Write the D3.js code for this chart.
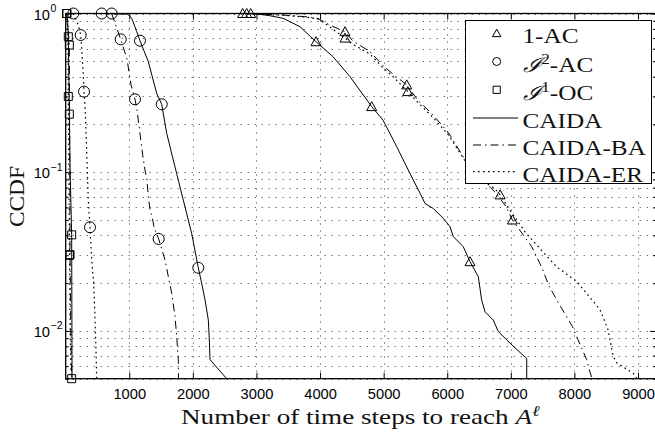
<!DOCTYPE html>
<html>
<head>
<meta charset="utf-8">
<script src="https://cdn.jsdelivr.net/npm/d3@7"></script>
<style>
  body { margin: 0; background: #fff; }
  svg { display: block; }
</style>
</head>
<body>
<svg id="chart" width="655" height="435"></svg>
<script>
// ---- tick values -------------------------------------------------------
const xTickValues = [1000, 2000, 3000, 4000, 5000, 6000, 7000, 8000, 9000];
const yTickExponents = [0, -1, -2];

// ---- legend entries ----------------------------------------------------
const legendMarkers = ["triangle", "circle", "square"];
const legendMarkerLabels = [["1-AC", ""], ["\u2110", "2", "-AC"], ["\u2110", "1", "-OC"]];
const legendLines = ["solid", "dashdot", "dotted"];
const legendLineLabels = ["CAIDA", "CAIDA-BA", "CAIDA-ER"];

// ---- CCDF curves: [time steps, CCDF] -----------------------------------
// I^1-OC attack
const caidaOC = [[16,1],[30,0.9],[41,0.714],[50,0.4],[57,0.232],[70,0.1],[94,0.0403],[98,0.01],[100,0.005]];
const caidaOCMarks = [[16,1],[41,0.714],[57,0.232],[94,0.0403]];
const baOC = [[16,1],[40,0.8],[57,0.633],[60,0.3],[65,0.1],[68,0.0302],[80,0.01],[94,0.005]];
const baOCMarks = [[16,1],[57,0.633],[68,0.0302],[94,0.005]];
const erOC = [[16,1],[35,0.7],[41,0.30],[50,0.1],[60,0.03],[70,0.01],[85,0.005]];
const erOCMarks = [[16,1],[41,0.30],[60,0.03]];

// I^2-AC attack
const caida2AC = [[566,1],[975,0.99],[1040,0.93],[1117,0.768],[1168,0.674],[1299,0.497],[1431,0.314],[1510,0.268],[1588,0.176],[1719,0.108],[1849,0.0668],[1981,0.0412],[2085,0.025],[2138,0.02],[2191,0.0157],[2243,0.0117],[2260,0.0085],[2269,0.0066],[2532,0.005]];
const caida2ACMarks = [[566,1],[1168,0.674],[1510,0.268],[2085,0.025]];
const ba2AC = [[723,1],[775,0.87],[865,0.688],[964,0.517],[1027,0.355],[1090,0.288],[1121,0.247],[1153,0.196],[1211,0.128],[1247,0.103],[1279,0.089],[1299,0.070],[1326,0.058],[1373,0.049],[1389,0.045],[1462,0.038],[1562,0.028],[1614,0.022],[1667,0.0173],[1719,0.0123],[1746,0.0092],[1771,0.0066],[1774,0.005]];
const ba2ACMarks = [[723,1],[865,0.688],[1090,0.288],[1462,0.038]];
const er2AC = [[120,1],[198,0.846],[236,0.732],[252,0.606],[277,0.40],[288,0.322],[304,0.259],[319,0.185],[355,0.067],[382,0.045],[409,0.028],[440,0.02],[461,0.012],[475,0.008],[487,0.005]];
const er2ACMarks = [[120,1],[236,0.732],[288,0.322],[382,0.045]];

// 1-AC attack
const caida1AC = [[2909,1],[3004,0.993],[3200,0.97],[3417,0.933],[3684,0.826],[3936,0.664],[4203,0.535],[4471,0.400],[4812,0.259],[4990,0.213],[5205,0.145],[5466,0.0892],[5572,0.0738],[5651,0.0635],[5781,0.0591],[5938,0.0512],[6043,0.0454],[6095,0.0393],[6253,0.0339],[6358,0.0273],[6488,0.0220],[6542,0.0156],[6594,0.0132],[6724,0.0117],[6803,0.0099],[7039,0.0080],[7250,0.0067],[7250,0.005]];
const caida1ACMarks = [[2909,1],[3936,0.664],[4812,0.259],[6358,0.0273]];
const ba1AC = [[2846,1],[3417,0.978],[3763,0.955],[3968,0.93],[4141,0.85],[4392,0.768],[4518,0.67],[4785,0.575],[4990,0.47],[5147,0.415],[5363,0.355],[5520,0.29],[5781,0.228],[6017,0.178],[6279,0.12],[6515,0.093],[6749,0.075],[6910,0.062],[7025,0.050],[7328,0.034],[7485,0.0252],[7605,0.019],[7784,0.0142],[7967,0.0107],[8056,0.0088],[8193,0.0066],[8245,0.0055],[8277,0.005]];
const ba1ACMarks = [[2846,1],[4392,0.768],[5363,0.355],[7025,0.050]];
const er1AC = [[2783,1],[3417,0.975],[3763,0.95],[3968,0.925],[4141,0.83],[4392,0.70],[4518,0.64],[4785,0.555],[4990,0.455],[5147,0.40],[5379,0.322],[5520,0.28],[5781,0.22],[6017,0.172],[6279,0.118],[6515,0.09],[6749,0.079],[6832,0.072],[7021,0.055],[7225,0.042],[7406,0.0348],[7721,0.0253],[8036,0.0205],[8193,0.0172],[8403,0.0136],[8528,0.0102],[8611,0.0069],[8665,0.0063],[8926,0.0054],[8984,0.005]];
const er1ACMarks = [[2783,1],[4392,0.70],[5379,0.322],[6832,0.072]];

const curves = [
  { data: caidaOC, marks: caidaOCMarks, line: "solid",   marker: "square" },
  { data: baOC,    marks: baOCMarks,    line: "dashdot", marker: "square" },
  { data: erOC,    marks: erOCMarks,    line: "dotted",  marker: "square" },
  { data: caida2AC, marks: caida2ACMarks, line: "solid",   marker: "circle" },
  { data: ba2AC,    marks: ba2ACMarks,    line: "dashdot", marker: "circle" },
  { data: er2AC,    marks: er2ACMarks,    line: "dotted",  marker: "circle" },
  { data: caida1AC, marks: caida1ACMarks, line: "solid",   marker: "triangle" },
  { data: ba1AC,    marks: ba1ACMarks,    line: "dashdot", marker: "triangle" },
  { data: er1AC,    marks: er1ACMarks,    line: "dotted",  marker: "triangle" }
];

// ---- layout ------------------------------------------------------------
const plot = { left: 65.7, right: 656, top: 13.5, bottom: 378.7 };
const xMax = 9283;
const svg = d3.select("#chart");
const x = d3.scaleLinear().domain([0, xMax]).range([plot.left, plot.right]);
const y = d3.scaleLog().domain([0.005, 1]).range([plot.bottom, plot.top]);

const dashes = { solid: null, dashdot: "8 4 1.5 4", dotted: "1.6 3.4" };
const sansFont = "'Liberation Sans', Arial, Helvetica, sans-serif";
const serifFont = "'Liberation Serif', 'DejaVu Serif', serif";

// minor/major log ticks inside the y domain
const yMajor = yTickExponents.map(e => Math.pow(10, e));
const yMinor = [];
[-3, -2, -1].forEach(e => { for (let k = 2; k <= 9; k++) { const v = k * Math.pow(10, e); if (v >= 0.005 && v < 1) yMinor.push(v); } });

// ---- grid --------------------------------------------------------------
const grid = svg.append("g").attr("stroke", "#333").attr("stroke-width", 1).attr("stroke-dasharray", "1 6");
grid.selectAll("line.v").data(xTickValues).join("line")
  .attr("x1", d => Math.round(x(d)) + 0.5).attr("x2", d => Math.round(x(d)) + 0.5)
  .attr("y1", plot.top).attr("y2", plot.bottom);
grid.selectAll("line.h").data(yMajor.concat(yMinor)).join("line")
  .attr("y1", d => Math.round(y(d)) + 0.5).attr("y2", d => Math.round(y(d)) + 0.5)
  .attr("x1", plot.left).attr("x2", plot.right);

// ---- curves ------------------------------------------------------------
svg.append("clipPath").attr("id", "plotClip").append("rect")
  .attr("x", plot.left).attr("y", plot.top - 1)
  .attr("width", plot.right - plot.left).attr("height", plot.bottom - plot.top + 1);

const lineGen = d3.line().x(d => x(d[0])).y(d => y(d[1]));
const lines = svg.append("g").attr("clip-path", "url(#plotClip)");
curves.forEach(c => {
  lines.append("path").attr("d", lineGen(c.data))
    .attr("fill", "none").attr("stroke", "#000")
    .attr("stroke-width", c.line === "dotted" ? 1.2 : 1)
    .attr("stroke-dasharray", dashes[c.line]);
});

function markerPath(kind, s) {
  if (kind === "triangle") return `M${-s},${s * 0.8}L0,${-s}L${s},${s * 0.8}Z`;
  if (kind === "square") return `M${-s},${-s}H${s}V${s}H${-s}Z`;
  return d3.arc()({ innerRadius: 0, outerRadius: s, startAngle: 0, endAngle: 2 * Math.PI });
}
const markerSize = { triangle: 5, circle: 5.5, square: 4 };
const marks = svg.append("g");
curves.forEach(c => {
  marks.selectAll(null).data(c.marks).join("path")
    .attr("transform", d => `translate(${x(d[0])},${y(d[1])})`)
    .attr("d", markerPath(c.marker, markerSize[c.marker]))
    .attr("fill", "none").attr("stroke", "#000").attr("stroke-width", 1);
});

// ---- axes --------------------------------------------------------------
function clean(g) { g.select(".domain").remove(); g.selectAll(".tick line").attr("stroke", "#000"); }
svg.append("g").attr("transform", `translate(0,${plot.bottom})`)
  .call(d3.axisBottom(x).tickValues(xTickValues).tickSizeInner(-6).tickSizeOuter(0).tickPadding(9.6).tickFormat(d3.format("d")))
  .call(clean)
  .call(g => g.selectAll("text").attr("font-family", sansFont).attr("font-size", 14.7).attr("fill", "#000"));
svg.append("g").attr("transform", `translate(0,${plot.top})`)
  .call(d3.axisTop(x).tickValues(xTickValues).tickSizeInner(-6).tickSizeOuter(0).tickFormat(""))
  .call(clean);
[[d3.axisLeft, plot.left], [d3.axisRight, plot.right]].forEach(([ax, pos]) => {
  svg.append("g").attr("transform", `translate(${pos},0)`)
    .call(ax(y).tickValues(yMajor).tickSizeInner(-6).tickSizeOuter(0).tickFormat(""))
    .call(clean);
  svg.append("g").attr("transform", `translate(${pos},0)`)
    .call(ax(y).tickValues(yMinor).tickSizeInner(-3).tickSizeOuter(0).tickFormat(""))
    .call(clean);
});
svg.append("rect").attr("x", plot.left).attr("y", plot.top)
  .attr("width", plot.right - plot.left).attr("height", plot.bottom - plot.top)
  .attr("fill", "none").attr("stroke", "#000").attr("stroke-width", 1.3);

// y tick labels as powers of ten
const yLab = svg.append("g").attr("font-family", sansFont).attr("fill", "#000");
yTickExponents.forEach(e => {
  const yy = y(Math.pow(10, e));
  yLab.append("text").attr("x", 50).attr("y", yy + 6).attr("text-anchor", "end")
    .attr("font-size", 14.7).text("10");
  yLab.append("text").attr("x", 50.5).attr("y", yy - 1.5)
    .attr("font-size", 10.5).text(e === 0 ? "0" : "\u2212" + Math.abs(e));
});

// ---- axis titles (serif, widened) -------------------------------------
function stretchTo(g, target) {
  const w = g.node().getBBox().width;
  return target / w;
}
const xTitle = svg.append("g");
const xText = xTitle.append("text").attr("font-family", serifFont).attr("font-size", 21.5).attr("fill", "#111");
xText.append("tspan").text("Number of time steps to reach ");
xText.append("tspan").attr("font-style", "italic").text("A");
xText.append("tspan").attr("font-size", 15).attr("dy", -8).attr("font-style", "italic").text("\u2113");
xTitle.attr("transform", `translate(181,424) scale(${stretchTo(xText, 359)},1)`);

const yTitle = svg.append("g");
const yText = yTitle.append("text").attr("font-family", serifFont).attr("font-size", 21.5).attr("fill", "#111").text("CCDF");
yTitle.attr("transform", `translate(24,227) rotate(-90) scale(${stretchTo(yText, 61)},1)`);

// ---- legend ------------------------------------------------------------
const legend = svg.append("g");
legend.append("rect").attr("x", 465.5).attr("y", 20.5).attr("width", 186).attr("height", 163)
  .attr("fill", "#fff").attr("stroke", "#000").attr("stroke-width", 1);
const rowY = [33.3, 61.5, 89.8, 118, 145, 171.7];
const legendFontSize = 20.5;
const legendTexts = [];
legendMarkers.forEach((m, i) => {
  const s = { triangle: 4.2, circle: 4, square: 3.6 }[m];
  legend.append("path").attr("transform", `translate(496.7,${rowY[i]})`)
    .attr("d", markerPath(m, s)).attr("fill", "none").attr("stroke", "#000").attr("stroke-width", 1);
  const g = legend.append("g");
  const t = g.append("text").attr("font-family", serifFont).attr("font-size", legendFontSize).attr("fill", "#111");
  const parts = legendMarkerLabels[i];
  if (parts.length === 2) {
    t.append("tspan").text(parts[0]);
  } else {
    t.append("tspan").attr("font-style", "italic").text(parts[0]);
    t.append("tspan").attr("font-size", 14).attr("dy", -8).text(parts[1]);
    t.append("tspan").attr("dy", 8).text(parts[2]);
  }
  legendTexts.push({ g, y: rowY[i] + 10 });
});
legendLines.forEach((ls, i) => {
  const yy = rowY[i + 3];
  legend.append("line").attr("x1", 473).attr("x2", 518).attr("y1", yy).attr("y2", yy)
    .attr("stroke", "#000").attr("stroke-width", ls === "dotted" ? 1.2 : 1).attr("stroke-dasharray", dashes[ls]);
  const g = legend.append("g");
  g.append("text").attr("font-family", serifFont).attr("font-size", legendFontSize).attr("fill", "#111")
    .text(legendLineLabels[i]);
  legendTexts.push({ g, y: yy + 10 });
});
const widest = legendTexts[legendTexts.length - 1].g.node().getBBox().width;
const legendScale = 121 / widest;
legendTexts.forEach(o => o.g.attr("transform", `translate(522.5,${o.y}) scale(${legendScale},1)`));
</script>
</body>
</html>
